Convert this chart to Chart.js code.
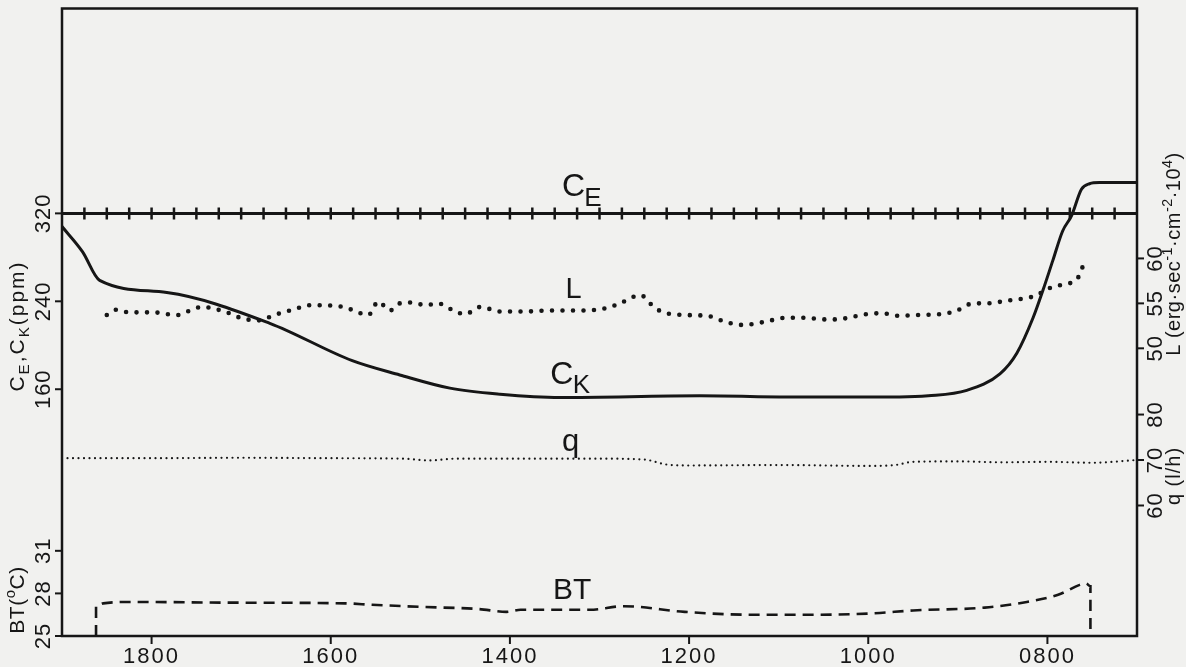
<!DOCTYPE html>
<html>
<head>
<meta charset="utf-8">
<script src="https://cdn.jsdelivr.net/npm/chart.js@4.4.0/dist/chart.umd.min.js"></script>
<style>
html, body { margin: 0; padding: 0; background: #f1f1ef; }
canvas { display: block; }
</style>
</head>
<body>
<canvas id="bioChart" width="1186" height="667"></canvas>
<script>
// time of day (hhmm), axis runs from 1900 on the left to 0700 on the right
const timeTicks = [1800, 1600, 1400, 1200, 1000, 800];
const ppmTicks = [320, 240, 160];
const btTicks = [31, 28, 25];
const lTicks = [60, 55, 50];
const qTicks = [80, 70, 60];

// C_E: constant level with measuring marks
const ceLevel = 320;
const ceMarks = [1875, 1850, 1825, 1800, 1775, 1750, 1725, 1700, 1675, 1650, 1625, 1600,
  1575, 1550, 1525, 1500, 1475, 1450, 1425, 1400, 1375, 1350, 1325, 1300, 1275, 1250,
  1225, 1200, 1175, 1150, 1125, 1100, 1075, 1050, 1025, 1000, 975, 950, 925, 900, 875,
  850, 825, 800, 775, 750, 725];

// C_K (ppm)
const ckTime = [1900, 1877, 1858, 1783, 1668, 1576, 1523, 1467, 1411, 1344, 1188, 1076,
  965, 933, 890, 853, 834, 816, 805, 794, 783, 773, 762, 753, 742, 700];
const ckPpm = [308, 285, 259, 248, 220, 186, 173, 161, 155.5, 152.5, 154, 153,
  153, 154, 159, 174, 193, 225, 250, 277, 304, 318, 342, 347, 348, 348];

// L (erg.sec-1.cm-2.10^4)
const lTime = [1850, 1839, 1825, 1798, 1772, 1757, 1744, 1716, 1701, 1682, 1660, 1642,
  1623, 1586, 1567, 1558, 1547, 1534, 1523, 1512, 1493, 1481, 1459, 1450, 1433, 1411,
  1381, 1359, 1325, 1296, 1277, 1263, 1253, 1246, 1229, 1202, 1179, 1158, 1140, 1118,
  1091, 1076, 1043, 1028, 1002, 985, 965, 948, 920, 901, 890, 883, 868, 845, 823, 812,
  800, 783, 767, 762, 758];
const lVal = [53.7, 54.3, 54.0, 54.0, 53.7, 54.2, 54.6, 54.0, 53.4, 53.1, 53.8, 54.3,
  54.8, 54.6, 53.9, 53.7, 55.2, 54.2, 55.0, 55.1, 54.8, 55.0, 54.0, 53.8, 54.6, 54.1,
  54.1, 54.2, 54.2, 54.4, 55.0, 55.7, 55.9, 55.2, 54.0, 53.7, 53.6, 52.9, 52.6, 52.9,
  53.4, 53.4, 53.2, 53.3, 53.8, 53.9, 53.6, 53.7, 53.8, 54.2, 54.8, 55.0, 55.0, 55.3,
  55.6, 55.9, 56.6, 57.1, 57.7, 58.7, 60.0];

// q (l/h)
const qTime = [1900, 1800, 1700, 1600, 1520, 1490, 1460, 1400, 1300, 1250, 1225, 1200,
  1100, 1000, 970, 950, 900, 850, 800, 750, 700];
const qVal = [70.4, 70.4, 70.5, 70.4, 70.3, 69.9, 70.3, 70.3, 70.3, 70.1, 69.0, 68.8,
  68.9, 68.7, 68.9, 69.6, 69.7, 69.5, 69.6, 69.4, 70.0];

// BT (oC)
const btTime = [1862, 1862, 1854, 1820, 1712, 1584, 1554, 1499, 1435, 1404, 1388, 1327,
  1311, 1273, 1205, 1132, 1056, 993, 950, 870, 823, 788, 764, 757, 752, 752];
const btVal = [25, 27.1, 27.3, 27.4, 27.35, 27.3, 27.2, 27.05, 26.9, 26.7, 26.85, 26.85,
  26.85, 27.1, 26.7, 26.5, 26.5, 26.6, 26.8, 27.0, 27.4, 27.9, 28.6, 28.7, 28.5, 25];

const ink = '#161616';
const font = '"Liberation Sans", Arial, sans-serif';
const pts = (xs, ys) => xs.map((x, i) => ({ x: x, y: ys[i] }));

// text made of pieces, some of them sub/superscript
function richText(ctx, parts, x, y, size, rot, spacing) {
  ctx.save();
  ctx.translate(x, y);
  if (rot) ctx.rotate(rot);
  ctx.letterSpacing = (spacing || 0) + 'px';
  let w = 0;
  parts.forEach(p => {
    ctx.font = (p.s ? size * 0.72 : size) + 'px ' + font;
    w += ctx.measureText(p.t).width;
  });
  let cx = -w / 2;
  ctx.textBaseline = 'alphabetic';
  ctx.textAlign = 'left';
  parts.forEach(p => {
    ctx.font = (p.s ? size * 0.72 : size) + 'px ' + font;
    const dy = p.s === 'sub' ? size * 0.25 : p.s === 'sup' ? -size * 0.42 : 0;
    ctx.fillText(p.t, cx, dy + size * 0.36);
    cx += ctx.measureText(p.t).width;
  });
  ctx.restore();
}

function rotLabel(ctx, txt, x, y, size) {
  ctx.save();
  ctx.translate(x, y);
  ctx.rotate(-Math.PI / 2);
  ctx.font = size + 'px ' + font;
  ctx.letterSpacing = '1px';
  ctx.textAlign = 'center';
  ctx.textBaseline = 'middle';
  ctx.fillText(txt, 0, 0);
  ctx.restore();
}

const paperPlugin = {
  id: 'paper',
  beforeDraw(chart) {
    const ctx = chart.ctx;
    ctx.save();
    ctx.fillStyle = '#f1f1ef';
    ctx.fillRect(0, 0, chart.width, chart.height);
    ctx.restore();
  },
  afterDraw(chart) {
    const { ctx, chartArea: a, scales: s } = chart;
    ctx.save();
    ctx.strokeStyle = ink;
    ctx.fillStyle = ink;
    ctx.lineWidth = 2.5;
    ctx.strokeRect(a.left, a.top, a.right - a.left, a.bottom - a.top);

    ctx.lineWidth = 2;
    const tick = (x1, y1, x2, y2) => {
      ctx.beginPath(); ctx.moveTo(x1, y1); ctx.lineTo(x2, y2); ctx.stroke();
    };

    // time axis
    ctx.font = '22px ' + font;
    ctx.letterSpacing = '2px';
    ctx.textAlign = 'center';
    ctx.textBaseline = 'top';
    timeTicks.forEach(t => {
      const x = s.x.getPixelForValue(t);
      tick(x, a.bottom, x, a.bottom + 8);
      ctx.fillText(String(t).padStart(4, '0'), x, a.bottom + 10);
    });
    ctx.letterSpacing = '0px';

    // left axes
    ppmTicks.forEach(v => {
      const y = s.yPpm.getPixelForValue(v);
      tick(a.left - 7, y, a.left, y);
      rotLabel(ctx, String(v), 44, y, 22);
    });
    btTicks.forEach(v => {
      const y = s.yBt.getPixelForValue(v);
      tick(a.left - 7, y, a.left, y);
      rotLabel(ctx, String(v), 44, y, 22);
    });
    richText(ctx, [{ t: 'C' }, { t: 'E', s: 'sub' }, { t: ',C' }, { t: 'K', s: 'sub' }, { t: '(ppm)' }],
      16, 326, 21, -Math.PI / 2, 2);
    richText(ctx, [{ t: 'BT(' }, { t: 'o', s: 'sup' }, { t: 'C)' }], 16, 600, 21, -Math.PI / 2, 0.5);

    // right axes
    lTicks.forEach(v => {
      const y = s.yL.getPixelForValue(v);
      tick(a.right, y, a.right + 7, y);
      rotLabel(ctx, String(v), 1156, y, 22);
    });
    qTicks.forEach(v => {
      const y = s.yQ.getPixelForValue(v);
      tick(a.right, y, a.right + 7, y);
      rotLabel(ctx, String(v), 1156, y, 22);
    });
    richText(ctx, [{ t: 'L (erg·sec' }, { t: '-1', s: 'sup' }, { t: '·cm' }, { t: '-2', s: 'sup' },
      { t: '·10' }, { t: '4', s: 'sup' }, { t: ')' }], 1173, 254, 20, -Math.PI / 2, 0.5);
    richText(ctx, [{ t: 'q (l/h)' }], 1173, 476, 20, -Math.PI / 2, 1);

    // curve names
    const lx = v => s.x.getPixelForValue(v);
    ctx.textAlign = 'left';
    ctx.textBaseline = 'alphabetic';
    ctx.font = '32px ' + font;
    ctx.fillText('C', lx(1342), s.yPpm.getPixelForValue(336));
    ctx.font = '26px ' + font;
    ctx.fillText('E', lx(1317), s.yPpm.getPixelForValue(327));
    ctx.font = '29px ' + font;
    ctx.fillText('L', lx(1338), s.yL.getPixelForValue(55.6));
    ctx.font = '32px ' + font;
    ctx.fillText('C', lx(1355), s.yPpm.getPixelForValue(165));
    ctx.font = '26px ' + font;
    ctx.fillText('K', lx(1330), s.yPpm.getPixelForValue(157));
    ctx.font = '31px ' + font;
    ctx.fillText('q', lx(1342), s.yQ.getPixelForValue(72));
    ctx.font = '30px ' + font;
    ctx.fillText('BT', lx(1352), s.yBt.getPixelForValue(27.6));
    ctx.restore();
  }
};

const chartCtx = document.getElementById('bioChart').getContext('2d');
const bioChart = new Chart(chartCtx, {
  type: 'line',
  data: {
    datasets: [
      {
        label: 'C_E',
        data: [{ x: 1900, y: ceLevel }, { x: 700, y: ceLevel }],
        yAxisID: 'yPpm',
        borderColor: ink, borderWidth: 3, pointRadius: 0
      },
      {
        label: 'C_E marks',
        data: ceMarks.map(t => ({ x: t, y: ceLevel })),
        yAxisID: 'yPpm',
        showLine: false,
        pointStyle: 'line', rotation: 90, pointRadius: 6,
        pointBorderWidth: 2.5, pointBorderColor: ink
      },
      {
        label: 'C_K',
        data: pts(ckTime, ckPpm),
        yAxisID: 'yPpm',
        borderColor: ink, borderWidth: 3, pointRadius: 0,
        cubicInterpolationMode: 'monotone'
      },
      {
        label: 'L',
        data: pts(lTime, lVal),
        yAxisID: 'yL',
        borderColor: ink, borderWidth: 4.6, pointRadius: 0,
        borderDash: [0, 10.5], borderCapStyle: 'round',
        cubicInterpolationMode: 'monotone'
      },
      {
        label: 'q',
        data: pts(qTime, qVal),
        yAxisID: 'yQ',
        borderColor: ink, borderWidth: 2.2, pointRadius: 0,
        borderDash: [0, 5.5], borderCapStyle: 'round',
        cubicInterpolationMode: 'monotone'
      },
      {
        label: 'BT',
        data: pts(btTime, btVal),
        yAxisID: 'yBt',
        borderColor: ink, borderWidth: 2.6, pointRadius: 0,
        borderDash: [11, 7],
        cubicInterpolationMode: 'monotone'
      }
    ]
  },
  options: {
    responsive: false,
    animation: false,
    layout: { padding: { left: 62, right: 49, top: 8, bottom: 31 } },
    plugins: { legend: { display: false }, tooltip: { enabled: false } },
    scales: {
      x: { type: 'linear', min: 700, max: 1900, reverse: true, display: false },
      yPpm: { type: 'linear', min: -64.5, max: 506.4, display: false },
      yL: { type: 'linear', min: 18, max: 87.8, display: false },
      yQ: { type: 'linear', min: 31.3, max: 169.3, display: false },
      yBt: { type: 'linear', min: 25, max: 69.2, display: false }
    }
  },
  plugins: [paperPlugin]
});
</script>
</body>
</html>
